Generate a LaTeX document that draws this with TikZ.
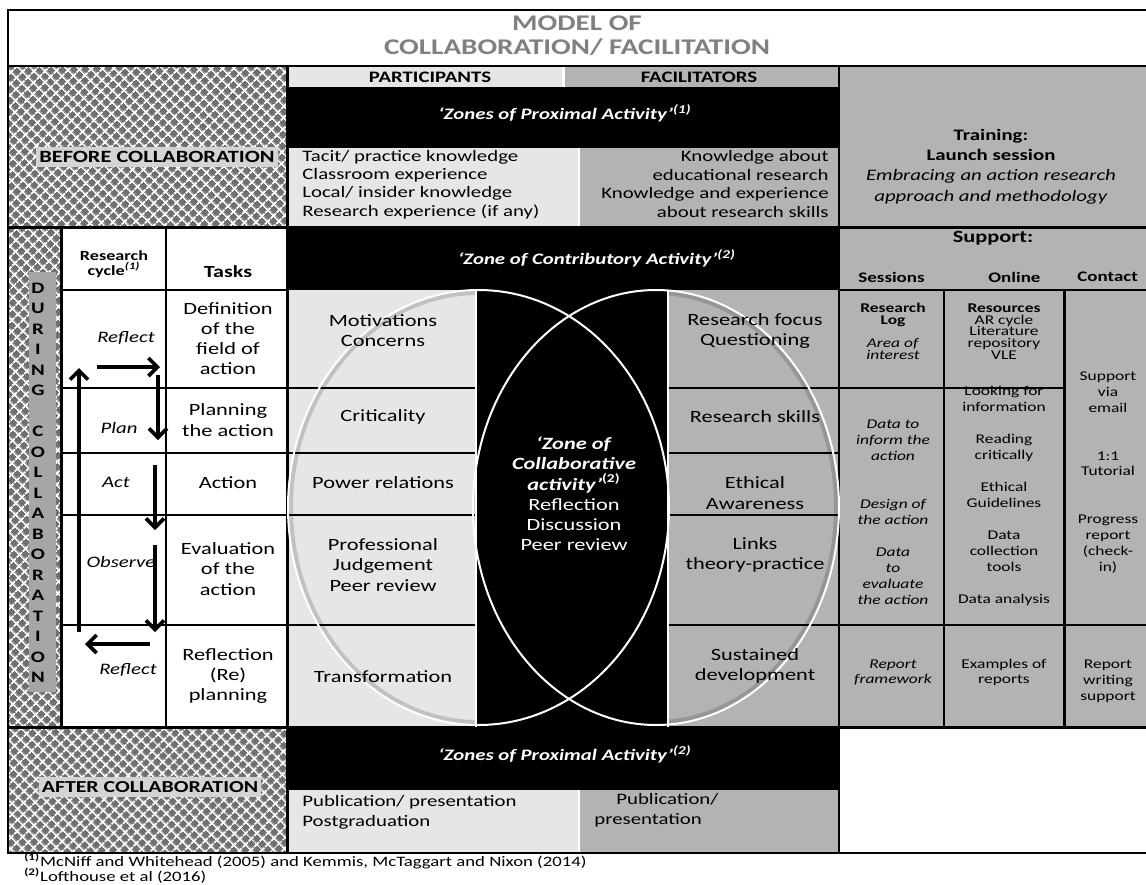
\documentclass[tikz,border=0pt]{standalone}
\usepackage{fontspec}
\setmainfont{Carlito}[FakeStretch=1.3]
\usetikzlibrary{arrows.meta, patterns.meta, positioning}
\definecolor{partgray}{RGB}{230,230,230}
\definecolor{facgray}{RGB}{179,179,179}
\definecolor{titlegray}{RGB}{128,128,128}
\definecolor{hatchgray}{RGB}{112,112,112}
\definecolor{markgray}{RGB}{212,212,212}
\definecolor{stripgray}{RGB}{166,166,166}
\newcommand{\fsz}[2]{\fontsize{#1}{#2}\selectfont}
\tikzset{
  hatched/.style={fill=hatchgray, postaction={pattern={Hatch[angle=45,distance=4pt,line width=1pt]}, pattern color=white}},
  rule/.style={line width=1.4pt, black},
  thinrule/.style={line width=1pt, black},
  txt/.style={inner sep=0pt, align=center},
  body/.style={txt, font=\fsz{8}{9.2}},
  big/.style={txt, font=\fsz{8.6}{10.1}},
  tiny/.style={txt, font=\fsz{6.7}{8}},
  zone/.style={txt, font=\fsz{8}{9}\bfseries\itshape, text=white},
  cyclbl/.style={txt, font=\fsz{8}{9}\itshape},
  cyc/.style={line width=1.8pt, -{Straight Barb[length=4.5pt,width=9pt]}},
  venn/.style={white, line width=1pt},
  glow/.style={black, opacity=0.16, line width=5pt}
}
\begin{document}
\begin{tikzpicture}[x=0.5pt, y=-0.5pt]
\useasboundingbox (0,0) rectangle (1146,884);
\clip (0,0) rectangle (1146,884);
\fill[white] (0,0) rectangle (1146,884);

% cell fills
\path[hatched] (8,66) rectangle (287,227);
\path[hatched] (8,228) rectangle (61,727);
\fill[stripgray] (29,272) rectangle (56,692);
\path[hatched] (8,728) rectangle (287,853);
\fill[partgray] (288,66) rectangle (562,87);
\fill[facgray] (565,66) rectangle (838,87);
\fill[black] (288,87) rectangle (838,148);
\fill[partgray] (288,148) rectangle (578,227);
\fill[facgray] (580,148) rectangle (838,227);
\fill[facgray] (840,66) rectangle (1146,227);
\fill[black] (288,228) rectangle (838,290);
\fill[facgray] (840,228) rectangle (1146,727);
\fill[partgray] (288,290) rectangle (476,727);
\fill[black] (476,290) rectangle (668,727);
\fill[facgray] (668,290) rectangle (838,727);
\fill[black] (288,728) rectangle (838,790);
\fill[partgray] (288,790) rectangle (578,853);
\fill[facgray] (580,790) rectangle (838,853);

% soft shading inside the zones
\begin{scope}
  \clip (478.5,507.5) ellipse [x radius=190.5, y radius=217.5];
  \draw[glow] (478.5,507.5) ellipse [x radius=190.5, y radius=217.5];
\end{scope}
\begin{scope}
  \clip (656,507.5) ellipse [x radius=183, y radius=217.5];
  \draw[glow] (656,507.5) ellipse [x radius=183, y radius=217.5];
\end{scope}

% grid
\draw[rule] (8,10) rectangle (1152,853);
\draw[rule] (8,66) -- (1152,66);
\draw[rule] (8,227.5) -- (1152,227.5);
\draw[rule] (8,727.5) -- (1152,727.5);
\draw[rule] (287.5,66) -- (287.5,853);
\draw[rule] (839,66) -- (839,853);
\draw[rule] (61.5,228) -- (61.5,727);
\draw[rule] (166,228) -- (166,727);
\draw[rule] (61.5,290) -- (287.5,290);
\draw[rule] (839,290) -- (1152,290);
\foreach \yy in {388,453,515,625} {
  \draw[thinrule] (61.5,\yy) -- (476,\yy);
  \draw[thinrule] (668,\yy) -- (839,\yy);
}
\draw[thinrule] (839,388) -- (1064,388);
\draw[thinrule] (839,625) -- (1152,625);
\draw[rule] (944,290) -- (944,727);
\draw[rule] (1064.5,290) -- (1064.5,727);
\draw[venn] (476,290) -- (476,727);
\draw[venn] (668,290) -- (668,727);

% overlapping zones
\draw[venn] (478.5,507.5) ellipse [x radius=190.5, y radius=217.5];
\draw[venn] (656,507.5) ellipse [x radius=183, y radius=217.5];

% title and headers
\node[txt, font=\fsz{11.2}{12}\bfseries, text=titlegray] (title) at (577,36) {MODEL OF\\COLLABORATION/ FACILITATION};
\node[txt, font=\fsz{8}{9}\bfseries] (part) at (430,77) {PARTICIPANTS};
\node[txt, font=\fsz{8}{9}\bfseries] (fac) at (699,77) {FACILITATORS};
\node[zone] (zpa1) at (565,113) {‘Zones of Proximal Activity’\textsuperscript{(1)}};

% before collaboration
\node[txt, font=\fsz{8.6}{10}\bfseries, fill=markgray, inner xsep=1.5pt, inner ysep=2pt] (before) at (157,157) {BEFORE COLLABORATION};
\node[body, align=left, anchor=west] (ptk) at (302,184.5) {Tacit/ practice knowledge\\Classroom experience\\Local/ insider knowledge\\Research experience (if any)};
\node[body, align=right, anchor=east] (fkn) at (829,184) {Knowledge about\\educational research\\Knowledge and experience\\about research skills};
\node[txt, font=\fsz{8}{10.2}] (train) at (991,166.5) {\textbf{Training:}\\\textbf{Launch session}\\\textit{Embracing an action research}\\\textit{approach and methodology}};

% during collaboration
\foreach \ch [count=\i from 0] in {D,U,R,I,N,G}
  \node[txt, font=\fsz{8}{9}\bfseries] (dur\i) at (38,288+\i*20.5) {\ch};
\foreach \ch [count=\i from 7] in {C,O,L,L,A,B,O,R,A,T,I,O,N}
  \node[txt, font=\fsz{8}{9}\bfseries] (dur\i) at (38,288+\i*20.5) {\ch};

\node[txt, font=\fsz{7}{6.2}\bfseries] (rchead) at (114,264) {Research\\cycle\textsuperscript{\itshape(1)}};
\node[txt, font=\fsz{8.5}{10}\bfseries] (tasks) at (228,272) {Tasks};
\node[zone] (zca) at (597,258) {‘Zone of Contributory Activity’\textsuperscript{(2)}};
\node[txt, font=\fsz{8.6}{10}\bfseries] (supp) at (993,238) {Support:};
\node[txt, font=\fsz{7.3}{9}\bfseries, anchor=west] (sess) at (858,277) {Sessions};
\node[txt, font=\fsz{7.3}{9}\bfseries, anchor=west] (onl) at (988,277) {Online};
\node[txt, font=\fsz{7.3}{9}\bfseries, anchor=west] (cont) at (1077,277) {Contact};

% research cycle
\node[cyclbl] (reflA) at (126,338) {Reflect};
\node[cyclbl] (plan) at (119,428) {Plan};
\node[cyclbl] (act) at (116,482) {Act};
\node[cyclbl] (obs) at (121,562) {Observe};
\node[cyclbl] (reflB) at (128,670) {Reflect};
\coordinate (upS) at (79,632);
\coordinate (upE) at (79,368);
\coordinate (rtS) at (97,367);
\coordinate (rtE) at (160,367);
\coordinate (dnAs) at (158,375);
\coordinate (dnAe) at (158,440);
\coordinate (dnBs) at (155,465);
\coordinate (dnBe) at (155,530);
\coordinate (dnCs) at (155,545);
\coordinate (dnCe) at (155,632);
\coordinate (lfS) at (150,644);
\coordinate (lfE) at (85,644);
\draw[cyc] (upS) -- (upE);
\draw[cyc] (rtS) -- (rtE);
\draw[cyc] (dnAs) -- (dnAe);
\draw[cyc] (dnBs) -- (dnBe);
\draw[cyc] (dnCs) -- (dnCe);
\draw[cyc] (lfS) -- (lfE);

% tasks
\node[big] (t1) at (228,338.5) {Definition\\of the\\field of\\action};
\node[big] (t2) at (228,420) {Planning\\the action};
\node[big] (t3) at (228,483) {Action};
\node[big] (t4) at (228,569) {Evaluation\\of the\\action};
\node[big] (t5) at (228,676) {Reflection\\(Re)\\planning};

% participants
\node[big] (p1) at (383,331) {Motivations\\Concerns};
\node[big] (p2) at (383,417) {Criticality};
\node[big] (p3) at (383,483) {Power relations};
\node[big] (p4) at (383,565) {Professional\\Judgement\\Peer review};
\node[big] (p5) at (383,677) {Transformation};

% facilitators
\node[big] (f1) at (755,331) {Research focus\\Questioning};
\node[big] (f2) at (755,417) {Research skills};
\node[big] (f3) at (755,493) {Ethical\\Awareness};
\node[big] (f4) at (755,555) {Links\\theory-practice};
\node[big] (f5) at (755,666) {Sustained\\development};

% shared zone
\node[big, text=white] (zcol) at (574,494) {\textbf{\textit{‘Zone of}}\\\textbf{\textit{Collaborative}}\\\textbf{\textit{activity’}}\textsuperscript{\textbf{(2)}}\\Reflection\\Discussion\\Peer review};

% support
\node[txt, font=\fsz{6.7}{5.9}] (logA) at (893,331.5) {\textbf{Research}\\\textbf{Log}\\[5.9pt]\textit{Area of}\\\textit{interest}};
\node[tiny, font=\fsz{6.7}{8}\itshape] (logB) at (893,512) {Data to\\inform the\\action\\[16pt]Design of\\the action\\[8pt]Data\\to\\evaluate\\the action};
\node[tiny, font=\fsz{6.7}{7.5}\itshape] (logC) at (893,672.5) {Report\\framework};
\node[txt, font=\fsz{6.7}{5.9}] (resA) at (1004,331.5) {\textbf{Resources}\\AR cycle\\Literature\\repository\\VLE};
\node[tiny] (resB) at (1004,496) {Looking for\\information\\[8pt]Reading\\critically\\[8pt]Ethical\\Guidelines\\[8pt]Data\\collection\\tools\\[8pt]Data analysis};
\node[tiny, font=\fsz{6.7}{7.5}] (resC) at (1004,672.5) {Examples of\\reports};
\node[tiny, font=\fsz{6.7}{7.95}] (conA) at (1108,472.5) {Support\\via\\email\\[15.9pt]1:1\\Tutorial\\[15.9pt]Progress\\report\\(check-\\in)};
\node[tiny] (conC) at (1108,681) {Report\\writing\\support};

% after collaboration
\node[txt, font=\fsz{8.4}{10}\bfseries, fill=markgray, inner xsep=1.5pt, inner ysep=2pt] (after) at (150,787) {AFTER COLLABORATION};
\node[zone] (zpa2) at (565,754) {‘Zones of Proximal Activity’\textsuperscript{(2)}};
\node[body, font=\fsz{8}{10}, align=left, anchor=west] (pubp) at (302,812) {Publication/ presentation\\Postgraduation};
\node[body, font=\fsz{8}{10}, align=left, anchor=west] (pubf) at (594,810) {\hspace*{11pt}Publication/\\presentation};

% references
\node[txt, font=\fsz{7.2}{8}, anchor=west] (fn1) at (24,861) {\textsuperscript{\textbf{(1)}}McNiff and Whitehead (2005) and Kemmis, McTaggart and Nixon (2014)};
\node[txt, font=\fsz{7.2}{8}, anchor=west] (fn2) at (24,876) {\textsuperscript{\textbf{(2)}}Lofthouse et al (2016)};
\end{tikzpicture}
\end{document}
